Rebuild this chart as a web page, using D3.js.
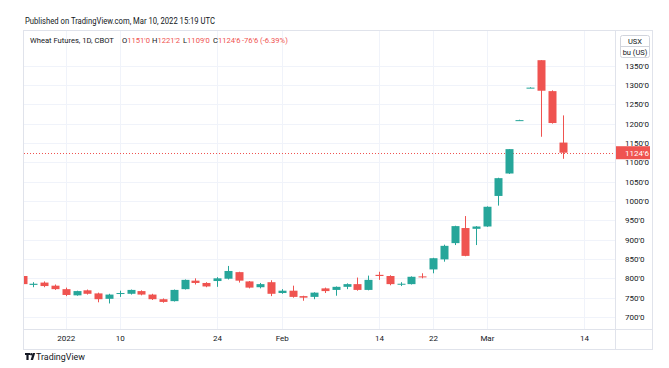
<!DOCTYPE html>
<html>
<head>
<meta charset="utf-8">
<script src="https://cdn.jsdelivr.net/npm/d3@7"></script>
<style>
  html, body { margin: 0; padding: 0; background: #fff; }
  svg { display: block; font-family: Roboto, "Liberation Sans", sans-serif; }
</style>
</head>
<body>
<svg id="chart" width="669" height="368"></svg>
<script>
// trading days shown, Dec 28 2021 .. Mar 10 2022 (CBOT wheat, daily)
var dates = ["Dec 28","Dec 29","Dec 30","Dec 31","Jan 3","Jan 4","Jan 5","Jan 6","Jan 7","Jan 10",
  "Jan 11","Jan 12","Jan 13","Jan 14","Jan 18","Jan 19","Jan 20","Jan 21","Jan 24","Jan 25",
  "Jan 26","Jan 27","Jan 28","Jan 31","Feb 1","Feb 2","Feb 3","Feb 4","Feb 7","Feb 8",
  "Feb 9","Feb 10","Feb 11","Feb 14","Feb 15","Feb 16","Feb 17","Feb 18","Feb 22","Feb 23",
  "Feb 24","Feb 25","Feb 28","Mar 1","Mar 2","Mar 3","Mar 4","Mar 7","Mar 8","Mar 9","Mar 10"];
var opens  = [806,783,789,781,772,756,769,761,747,760, 760,767,758,746,741,772,794,788,793,799,
  816,792,777,790,762,768,754,752,774,770, 778,785,770,809,806,784,785,805,823,849,
  891,930,928,934,1013,1071,1208,1292,1364,1284,1151];
var highs  = [808,790,792,784,776,768,771,763,760,768, 771,769,760,748,771,797,800,790,803,832,
  817,793,788,795,772,781,755,764,776,779, 787,802,807,817,808,790,805,813,853,887,
  936,961,935,986,1060,1134,1210,1294,1364,1286,1221.25];
var lows   = [783,777,777,770,754,755,758,738,735,752, 758,756,744,737,740,771,784,777,778,797,
  789,774,774,754,760,750,742,746,762,755, 772,768,769,796,782,780,784,800,813,843,
  886,857,886,933,988,1070,1208,1292,1166,1200,1109];
var closes = [785,786,780,772,757,767,760,746,758,762, 770,758,746,739,770,796,788,779,800,819,
  794,776,785,760,768,752,750,763,767,778, 785,770,796,806,785,786,804,803,852,884,
  935,858,934,985,1059,1134,1209,1293,1285,1201.5,1124.75];

// axis labels (bar index -> label), index 52 is Mar 14 (not traded yet)
var timeTickIdx    = [4, 9, 18, 24, 33, 38, 43, 52];
var timeTickLabels = ["2022", "10", "24", "Feb", "14", "22", "Mar", "14"];
var priceTicks = [700, 750, 800, 850, 900, 950, 1000, 1050, 1100, 1150, 1200, 1250, 1300, 1350];

var lastClose = 1124.75;
var UP = "#26a69a", DOWN = "#ef5350", TXT = "#131722";

// wheat is quoted in 1/8 cents: 1124.75 -> 1124'6
function fmt(p) {
  var whole = Math.floor(p);
  return whole + "'" + Math.round((p - whole) * 8);
}

var svg = d3.select("#chart");
var paneL = 24, paneR = 615, paneT = 31, paneB = 329, frameR = 653, frameB = 350;

var x = d3.scaleLinear().domain([0, 50]).range([22.5, 562.5]);
var y = d3.scaleLinear().domain([700, 1350]).range([317, 65.6]);
var bodyW = 8;

svg.append("text").attr("x", 25).attr("y", 24).attr("font-size", 9).attr("fill", TXT)
  .attr("textLength", 190).attr("lengthAdjust", "spacingAndGlyphs")
  .text("Published on TradingView.com, Mar 10, 2022 15:19 UTC");

svg.append("defs").append("clipPath").attr("id", "pane")
  .append("rect").attr("x", paneL).attr("y", paneT).attr("width", paneR - paneL).attr("height", paneB - paneT);

// grid
var grid = svg.append("g").attr("clip-path", "url(#pane)");
grid.selectAll("line.h").data(priceTicks).enter().append("line")
  .attr("x1", paneL).attr("x2", paneR).attr("y1", function(d) { return Math.round(y(d)) + 0.5; }).attr("y2", function(d) { return Math.round(y(d)) + 0.5; })
  .attr("stroke", "#f0f3fa");
grid.selectAll("line.v").data(timeTickIdx).enter().append("line")
  .attr("y1", paneT).attr("y2", paneB).attr("x1", function(d) { return Math.round(x(d)) + 0.5; }).attr("x2", function(d) { return Math.round(x(d)) + 0.5; })
  .attr("stroke", "#f0f3fa");

// frame
var frame = svg.append("g").attr("stroke", "#e0e3eb").attr("fill", "none");
frame.append("rect").attr("x", paneL - 0.5).attr("y", paneT - 0.5).attr("width", frameR - paneL).attr("height", frameB - paneT);
frame.append("line").attr("x1", paneR + 0.5).attr("x2", paneR + 0.5).attr("y1", paneT).attr("y2", frameB);
frame.append("line").attr("x1", paneL).attr("x2", frameR).attr("y1", paneB + 0.5).attr("y2", paneB + 0.5);

// last price line
svg.append("line").attr("x1", paneL).attr("x2", paneR)
  .attr("y1", Math.round(y(lastClose)) + 0.5).attr("y2", Math.round(y(lastClose)) + 0.5)
  .attr("stroke", DOWN).attr("stroke-dasharray", "1,2");

// candles
var bars = dates.map(function(d, i) {
  return {i: i, o: opens[i], h: highs[i], l: lows[i], c: closes[i]};
});
var candles = svg.append("g").attr("clip-path", "url(#pane)")
  .selectAll("g").data(bars).enter().append("g");
candles.append("line")
  .attr("x1", function(d) { return Math.round(x(d.i)) + 0.5; })
  .attr("x2", function(d) { return Math.round(x(d.i)) + 0.5; })
  .attr("y1", function(d) { return y(d.h); })
  .attr("y2", function(d) { return y(d.l); })
  .attr("stroke", function(d) { return d.c >= d.o ? UP : DOWN; });
candles.append("rect")
  .attr("x", function(d) { return Math.round(x(d.i)) - bodyW / 2 + 0.5; })
  .attr("width", bodyW)
  .attr("y", function(d) { return y(Math.max(d.o, d.c)); })
  .attr("height", function(d) { return Math.max(1, Math.abs(y(d.o) - y(d.c))); })
  .attr("fill", function(d) { return d.c >= d.o ? UP : DOWN; });

// price axis
var yAxis = svg.append("g").attr("transform", "translate(" + paneR + ",0)")
  .call(d3.axisRight(y).tickValues(priceTicks).tickFormat(fmt).tickSize(0).tickPadding(10));
yAxis.select(".domain").remove();
yAxis.selectAll("text").attr("font-size", 8).attr("fill", TXT).attr("font-family", "Roboto, sans-serif");

// last price label
var lp = svg.append("g").attr("transform", "translate(" + (paneR + 1) + "," + y(lastClose) + ")");
lp.append("rect").attr("x", 0).attr("y", -6.5).attr("width", 34).attr("height", 13).attr("fill", DOWN);
lp.append("text").attr("x", 9).attr("y", 3).attr("font-size", 8).attr("fill", "#fff").text(fmt(lastClose));

// currency box
var cur = svg.append("g").attr("transform", "translate(620.5,35.5)");
cur.append("rect").attr("width", 29).attr("height", 22).attr("rx", 2).attr("fill", "#fff").attr("stroke", "#d1d4dc");
cur.append("line").attr("x1", 0).attr("x2", 29).attr("y1", 11).attr("y2", 11).attr("stroke", "#d1d4dc");
cur.append("text").attr("x", 14.5).attr("y", 8.5).attr("text-anchor", "middle").attr("font-size", 7.5).attr("fill", TXT).text("USX");
cur.append("text").attr("x", 14.5).attr("y", 19).attr("text-anchor", "middle").attr("font-size", 7.5).attr("fill", TXT).text("bu (US)");

// time axis
var xAxis = svg.append("g").attr("transform", "translate(0," + paneB + ")")
  .call(d3.axisBottom(x).tickValues(timeTickIdx)
    .tickFormat(function(d, k) { return timeTickLabels[k]; }).tickSize(0).tickPadding(6));
xAxis.select(".domain").remove();
xAxis.selectAll("text").attr("font-size", 8).attr("fill", TXT).attr("font-family", "Roboto, sans-serif");

// legend: title, then O/H/L/C of the last bar and the day change (one text, tspans)
var last = dates.length - 1;
var chg = closes[last] - closes[last - 1];
var legend = svg.append("text").attr("y", 43).attr("font-size", 7.6).attr("fill", TXT);
legend.append("tspan").attr("x", 30).text("Wheat Futures, 1D, CBOT");
[["O", opens[last], 122], ["H", highs[last], 152], ["L", lows[last], 183], ["C", closes[last], 213]].forEach(function(p) {
  legend.append("tspan").attr("x", p[2]).text(p[0]);
  legend.append("tspan").attr("fill", DOWN).text(fmt(p[1]));
});
legend.append("tspan").attr("x", 242).attr("fill", DOWN)
  .text("-" + fmt(-chg) + " (" + (chg / closes[last - 1] * 100).toFixed(2) + "%)");

// logo
var logo = svg.append("g").attr("transform", "translate(25,353)").attr("fill", TXT);
logo.append("path").attr("d", "M0,0H5V2H3.6V7H1.4V2H0Z");
logo.append("circle").attr("cx", 6.3).attr("cy", 1.2).attr("r", 1.2);
logo.append("path").attr("d", "M7.8,0H10.2L8,7H5.6Z");
svg.append("text").attr("x", 36).attr("y", 360).attr("font-size", 8.5).attr("fill", TXT)
  .attr("textLength", 49).attr("lengthAdjust", "spacingAndGlyphs").text("TradingView");
</script>
</body>
</html>
